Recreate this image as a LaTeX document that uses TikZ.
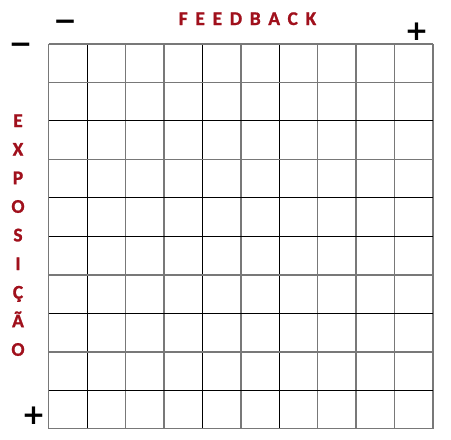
\documentclass[tikz,border=0pt]{standalone}
\usepackage{fontspec}
\setmainfont{Carlito}
\newfontfamily\lblfont{Carlito}[UprightFeatures={FakeBold=1.2},BoldFeatures={FakeBold=1.2}]
\newfontfamily\signfont{DejaVu Sans}
\usetikzlibrary{positioning}
\definecolor{LabelRed}{HTML}{A0101C}
\definecolor{GridGray}{HTML}{787878}

\begin{document}
\begin{tikzpicture}[x=1pt,y=-1pt,
    every node/.style={inner sep=0pt},
    lbl/.style={font=\lblfont\bfseries\fontsize{19.4}{19.4}\selectfont,text=LabelRed},
    sign/.style={font=\signfont\bfseries\fontsize{28}{28}\selectfont},
    gl/.style={GridGray,line width=1.5pt},
    bl/.style={black,line width=0.9pt}]
  \useasboundingbox (0,0) rectangle (451,440);
  % grid 10 x 10
  \foreach \i/\s in {0/gl,1/bl,2/gl,3/gl,4/bl,5/gl,6/bl,7/gl,8/gl,9/gl,10/gl}
    \draw[\s] (48.5+38.45*\i,44) -- (48.5+38.45*\i,428.7);
  \foreach \i/\s in {0/gl,1/gl,2/bl,3/gl,4/bl,5/bl,6/gl,7/bl,8/gl,9/bl,10/gl}
    \draw[\s] (48.5,44+38.47*\i) -- (433,44+38.47*\i);
  % axis labels
  \node[lbl,anchor=base] (feedback) at (247.5,25)
    {\addfontfeature{LetterSpace=40}FEEDBACK};
  \foreach \c [count=\k from 0] in {E,X,P,O,S,I,Ç,Ã,O}
    \node[lbl,anchor=base] (exp\k) at (18,127+28.6*\k) {\c};
  % signs
  \node[sign] (fbminus) at (65,25) {−};
  \node[sign] (fbplus) at (416.5,32) {+};
  \node[sign] (exminus) at (20.5,48) {−};
  \node[sign] (explus) at (33.5,415.5) {+};
\end{tikzpicture}
\end{document}
